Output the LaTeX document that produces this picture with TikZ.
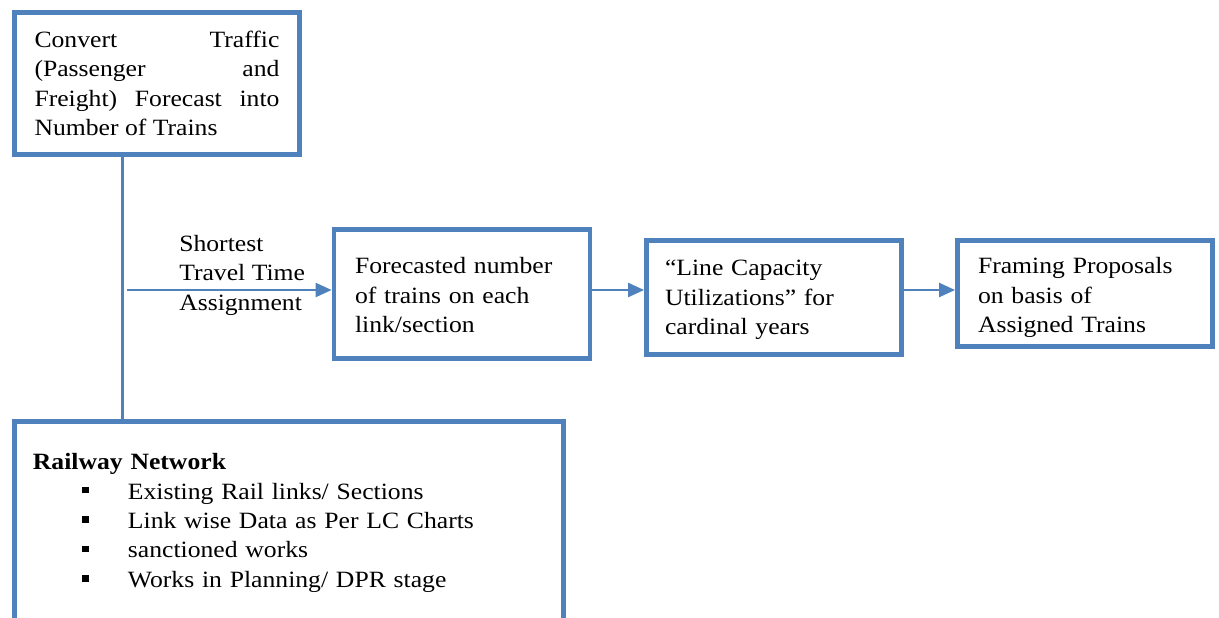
\documentclass[tikz,border=0pt]{standalone}
\usepackage{fontspec}
\setmainfont{Liberation Serif}[FakeStretch=1.1]
\usetikzlibrary{arrows.meta}
\definecolor{boxblue}{RGB}{79,129,189}
\newcommand{\sqbul}{\makebox[34.5pt][l]{\rule[4.3pt]{5pt}{5pt}}}
\newcommand{\topup}[1]{\rule{0pt}{#1}}
\begin{document}
\begin{tikzpicture}[x=0.75pt,y=-0.75pt,
  every node/.style={font=\fontsize{17.5}{22.1}\selectfont},
  box/.style={draw=boxblue,line width=3.6pt,rectangle,inner ysep=0pt,align=left},
  conn/.style={draw=boxblue,line width=1.7pt},
  arr/.style={conn,-{Triangle[length=12pt,width=10.5pt]}}]
\useasboundingbox (0,0) rectangle (1219,617);
\clip (0,0) rectangle (1219,617);
% boxes
\node[box,minimum width=213.75pt,minimum height=106.5pt,text width=183.75pt,inner xsep=15pt,align=justify] (a) at (157,83.5)
  {Convert Traffic\linebreak (Passenger and\linebreak Freight) Forecast into\linebreak Number of Trains};
\node[box,minimum width=192pt,minimum height=96.75pt,text width=160.5pt,inner xsep=15.75pt] (b) at (462,294)
  {\topup{14pt}Forecasted number\\of trains on each\\link/section};
\node[box,minimum width=191.25pt,minimum height=85.5pt,text width=163.5pt,inner xsep=13.9pt] (c) at (774,297.5)
  {\topup{15.5pt}``Line Capacity\\Utilizations'' for\\cardinal years};
\node[box,minimum width=191.25pt,minimum height=79.5pt,text width=160.5pt,inner xsep=15.4pt] (d) at (1085,293.5)
  {\topup{18.5pt}Framing Proposals\\on basis of\\Assigned Trains};
\node[box,anchor=north west,text width=384pt,inner xsep=13.9pt,inner ysep=24pt] (n) at (12,419)
  {\textbf{Railway Network}\\
   \hspace*{36.75pt}\sqbul Existing Rail links/ Sections\\
   \hspace*{36.75pt}\sqbul Link wise Data as Per LC Charts\\
   \hspace*{36.75pt}\sqbul sanctioned works\\
   \hspace*{36.75pt}\sqbul Works in Planning/ DPR stage\\
   \mbox{}};
% label
\node[anchor=west,inner sep=0pt,align=left] (lbl) at (179,275)
  {Shortest\\Travel Time\\Assignment};
% connectors
\coordinate (v) at (122.5,0);
\coordinate (s) at (126.5,290);
\draw[conn] (a.south -| v) -- (n.north -| v);
\draw[arr] (s) -- (s -| b.west);
\draw[arr] (b.east |- s) -- (c.west |- s);
\draw[arr] (c.east |- s) -- (d.west |- s);
\end{tikzpicture}
\end{document}
